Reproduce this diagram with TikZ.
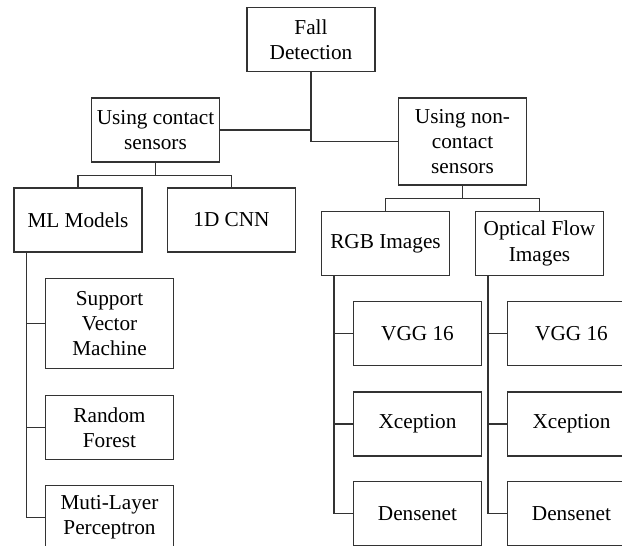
\documentclass[tikz,border=0pt]{standalone}
\usepackage{fontspec}
\setmainfont{Liberation Serif}
\usepackage{tikz}

\tikzset{
  box/.style={draw=black!80, line width=0.7pt, minimum width=2.56cm, minimum height=1.28cm, align=center, inner sep=2pt},
  tallbox/.style={box, minimum height=1.8cm},
  link/.style={draw=black!80, line width=0.7pt}
}

\begin{document}
\begin{tikzpicture}[x=0.02cm, y=-0.02cm, font=\fontsize{12.1}{14.4}\selectfont]
  \useasboundingbox (0,0) rectangle (622,545);
  \clip (0,0) rectangle (622,545);
  % top levels
  \node[box] (fall) at (311,39.5) {Fall\\Detection};
  \node[box] (contact) at (155.5,130) {Using contact\\sensors};
  \node[tallbox, minimum height=1.74cm] (noncontact) at (462.5,141.5) {Using non-\\contact\\sensors};
  \draw[link] (fall.south) -- (fall.south |- noncontact.west) -- (noncontact.west);
  \draw[link] (contact.east) -- (contact.east -| fall.south);
  % contact sensors
  \node[box] (ml) at (78,220) {ML Models};
  \node[box] (cnn) at (231.5,220) {1D CNN};
  \draw[link] (contact.south) -- ++(0,13) coordinate (cfork);
  \draw[link] (ml.north) |- (cfork) -| (cnn.north);
  \node[tallbox] (svm) at (109.5,323.5) {Support\\Vector\\Machine};
  \node[box] (rf) at (109.5,427.5) {Random\\Forest};
  \node[box] (mlp) at (109.5,517.5) {Muti-Layer\\Perceptron};
  \coordinate (mlstem) at ([xshift=13*0.02cm]ml.south west);
  \draw[link] (mlstem) |- (mlp.west);
  \foreach \n in {svm, rf}
    \draw[link] (mlstem |- \n.west) -- (\n.west);
  % non-contact sensors
  \node[box] (rgb) at (385.5,243.5) {RGB Images};
  \node[box] (flow) at (539.5,243.5) {Optical Flow\\Images};
  \draw[link] (noncontact.south) -- ++(0,13) coordinate (nfork);
  \draw[link] (rgb.north) |- (nfork) -| (flow.north);
  \foreach \col/\x in {rgb/417.5, flow/571.5} {
    \node[box] (vgg-\col) at (\x,333.5) {VGG 16};
    \node[box] (xcep-\col) at (\x,424) {Xception};
    \node[box] (dense-\col) at (\x,513.5) {Densenet};
    \coordinate (stem-\col) at ([xshift=13*0.02cm]\col.south west);
    \draw[link] (stem-\col) |- (dense-\col.west);
    \draw[link] (stem-\col |- vgg-\col.west) -- (vgg-\col.west);
    \draw[link] (stem-\col |- xcep-\col.west) -- (xcep-\col.west);
  }
\end{tikzpicture}
\end{document}
